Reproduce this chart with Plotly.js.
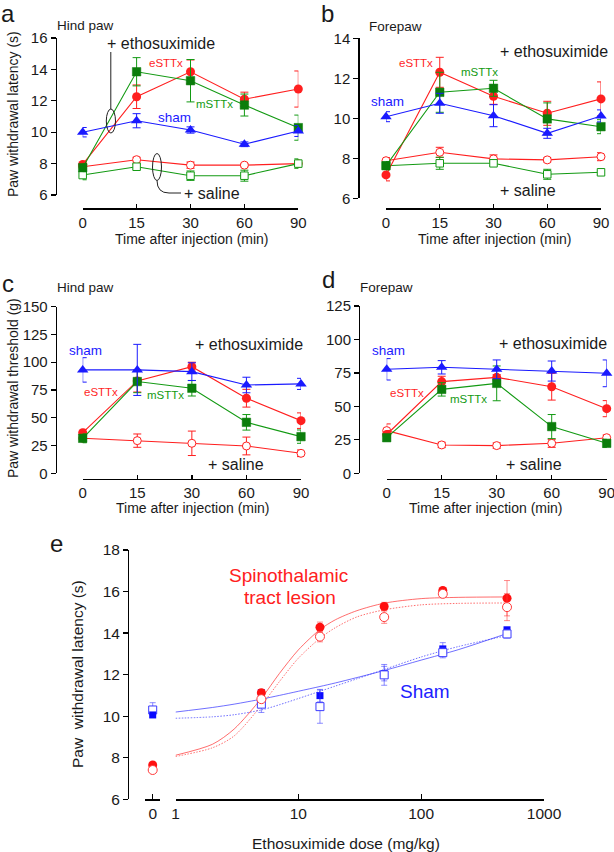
<!DOCTYPE html>
<html>
<head>
<meta charset="utf-8">
<script src="https://cdn.plot.ly/plotly-3.0.1.min.js"></script>
<style>
  html, body { margin: 0; padding: 0; background: #fff; }
  #chart { width: 614px; height: 852px; }
</style>
</head>
<body>
<div id="chart"></div>
<script>
// Time points (categories) shared by panels a-d
const timeLabels = ['0', '15', '30', '60', '90'];

// Panel a: hind paw withdrawal latency (s)
const aShamY = [10.0, 10.73, 10.14, 9.23, 10.08];
const aShamE = [0.3, 0.45, 0.2, 0.15, 0.35];
const aEsttxY = [7.95, 12.26, 13.85, 12.1, 12.75];
const aEsttxE = [0.2, 0.75, 0.75, 0.45, 1.15];
const aMsttxY = [7.74, 13.85, 13.28, 11.73, 10.29];
const aMsttxE = [0.25, 0.9, 1.35, 0.7, 0.8];
const aEsalY = [7.8, 8.25, 7.9, 7.9, 8.0];
const aEsalE = [0.15, 0.15, 0.2, 0.1, 0.15];
const aMsalY = [7.27, 7.8, 7.23, 7.23, 8.0];
const aMsalE = [0.3, 0.15, 0.3, 0.35, 0.3];

// Panel b: forepaw withdrawal latency (s)
const bShamY = [10.08, 10.75, 10.13, 9.25, 10.12];
const bShamE = [0.25, 0.5, 0.55, 0.25, 0.3];
const bEsttxY = [7.17, 12.3, 11.1, 10.25, 10.97];
const bEsttxE = [0.3, 0.75, 0.4, 0.6, 0.85];
const bMsttxY = [7.63, 11.3, 11.5, 9.97, 9.58];
const bMsttxE = [0.2, 1.0, 0.4, 0.8, 0.35];
const bEsalY = [7.88, 8.3, 7.97, 7.92, 8.08];
const bEsalE = [0.15, 0.25, 0.2, 0.1, 0.2];
const bMsalY = [7.63, 7.75, 7.75, 7.2, 7.3];
const bMsalE = [0.2, 0.3, 0.1, 0.25, 0.1];

// Panel c: hind paw withdrawal threshold (g)
const cShamY = [93.1, 93.1, 91.5, 79.5, 80.5];
const cShamE = [11, 23, 8, 7, 5];
const cEsttxY = [36.6, 83.2, 96, 67.6, 47.4];
const cEsttxE = [3, 10, 4, 8, 7];
const cMsttxY = [31.5, 82.6, 76.6, 45.9, 33];
const cMsttxE = [4, 10, 7, 7, 6];
const cEsalY = [31.5, 29.4, 27, 24.6, 18];
const cEsalE = [3, 6, 11, 8, 3];

// Panel d: forepaw withdrawal threshold (g)
const dShamY = [77.7, 79.2, 77.7, 76.4, 74.7];
const dShamE = [8, 5, 7, 7.5, 10];
const dEsttxY = [29, 68.5, 71.7, 64.7, 48.3];
const dEsttxE = [3, 4, 2, 10, 6];
const dMsttxY = [26.6, 62.7, 67.2, 34.9, 22.4];
const dMsttxE = [2, 5, 13, 9, 3];
const dEsalY = [31.9, 21.2, 20.7, 22.4, 26.6];
const dEsalE = [5, 2, 2, 3, 2];

// Panel e: dose response (mg/kg)
const doses = [5, 15, 50, 150, 500];
const zeroDose = [0];
const stlFilledY = [11.13, 14.28, 15.28, 16.05, 15.68];
const stlFilledE = [0.1, 0.25, 0.2, 0.1, 0.85];
const stlFilled0 = [7.65];
const stlOpenY = [10.82, 13.83, 14.77, 15.89, 15.25];
const stlOpenE = [0.1, 0.25, 0.3, 0.1, 0.65];
const stlOpen0 = [7.41];
const shamFilledY = [11.13, 10.99, 12.05, 13.24, 14.16];
const shamFilledE = [0.1, 0.3, 0.35, 0.3, 0.1];
const shamFilled0 = [10.06];
const shamOpenY = [10.58, 10.46, 11.99, 13.06, 13.96];
const shamOpenE = [0.4, 0.8, 0.5, 0.25, 0.2];
const shamOpen0 = [10.3];
const shamOpen0E = [0.35];

// Fitted curves
const curveDoses = [1, 2, 3, 5, 7, 10, 15, 20, 30, 50, 100, 200, 500];
const stlFitSolid = [8.12, 8.65, 9.38, 10.86, 12.05, 13.19, 14.17, 14.64, 15.08, 15.44, 15.66, 15.72, 15.74];
const stlFitDotted = [8.06, 8.48, 9.05, 10.52, 11.66, 12.79, 13.75, 14.26, 14.78, 15.12, 15.36, 15.43, 15.45];
const shamFitSolid = [10.2, 10.42, 10.58, 10.82, 11.0, 11.2, 11.43, 11.6, 11.86, 12.2, 12.7, 13.2, 13.98];
const shamFitDotted = [9.9, 9.97, 10.07, 10.3, 10.55, 10.85, 11.2, 11.45, 11.8, 12.25, 12.85, 13.35, 13.88];

// pixel -> paper helpers
const W = 614, H = 852;
const px = v => v / W;
const py = v => 1 - v / H;

const FONT = 'Liberation Sans, Arial, sans-serif';
const RED = '#ff1f1f', GREEN = '#139a13', DKGREEN = '#0b7d0b', BLUE = '#1a1aff';

function errs(arr, color) {
    return {type: 'data', array: arr, visible: true, color: color, thickness: 1, width: 4};
}

function series(xa, ya, y, e, kind) {
    let styles = {
        esttx: {line: RED, marker: {symbol: 'circle', size: 9, color: RED}},
        msttx: {line: GREEN, marker: {symbol: 'square', size: 8.5, color: DKGREEN, line: {color: DKGREEN, width: 0.5}}},
        sham: {line: BLUE, marker: {symbol: 'triangle-up', size: 10, color: BLUE}},
        esal: {line: RED, marker: {symbol: 'circle', size: 8, color: '#fff', line: {color: RED, width: 1}}},
        msal: {line: GREEN, marker: {symbol: 'square', size: 7.5, color: '#fff', line: {color: GREEN, width: 1}}}
    };
    let s = styles[kind];
    return {
        x: timeLabels, y: y, xaxis: xa, yaxis: ya,
        mode: 'lines+markers', cliponaxis: false,
        line: {color: s.line, width: 1.1},
        marker: s.marker,
        error_y: errs(e, s.line),
        hoverinfo: 'skip', showlegend: false
    };
}

let data = [
    // a
    series('x', 'y', aEsalY, aEsalE, 'esal'),
    series('x', 'y', aMsalY, aMsalE, 'msal'),
    series('x', 'y', aEsttxY, aEsttxE, 'esttx'),
    series('x', 'y', aMsttxY, aMsttxE, 'msttx'),
    series('x', 'y', aShamY, aShamE, 'sham'),
    // b
    series('x2', 'y2', bEsalY, bEsalE, 'esal'),
    series('x2', 'y2', bMsalY, bMsalE, 'msal'),
    series('x2', 'y2', bEsttxY, bEsttxE, 'esttx'),
    series('x2', 'y2', bMsttxY, bMsttxE, 'msttx'),
    series('x2', 'y2', bShamY, bShamE, 'sham'),
    // c
    series('x3', 'y3', cEsalY, cEsalE, 'esal'),
    series('x3', 'y3', cEsttxY, cEsttxE, 'esttx'),
    series('x3', 'y3', cMsttxY, cMsttxE, 'msttx'),
    series('x3', 'y3', cShamY, cShamE, 'sham'),
    // d
    series('x4', 'y4', dEsalY, dEsalE, 'esal'),
    series('x4', 'y4', dEsttxY, dEsttxE, 'esttx'),
    series('x4', 'y4', dMsttxY, dMsttxE, 'msttx'),
    series('x4', 'y4', dShamY, dShamE, 'sham')
];

// Panel e curves
function curve(y, color, dash) {
    return {
        x: curveDoses, y: y, xaxis: 'x5', yaxis: 'y5', mode: 'lines',
        line: {color: color, width: 1, shape: 'spline', smoothing: 0.8, dash: dash},
        hoverinfo: 'skip', showlegend: false
    };
}
const ERED = 'rgba(255,60,60,0.75)', EBLUE = 'rgba(50,50,255,0.7)';
data.push(curve(stlFitSolid, ERED, 'solid'));
data.push(curve(stlFitDotted, ERED, '1.5px,1.5px'));
data.push(curve(shamFitSolid, EBLUE, 'solid'));
data.push(curve(shamFitDotted, EBLUE, '1.5px,1.5px'));

// Panel e points
function pts(xa, x, y, e, marker, color) {
    return {
        x: x, y: y, xaxis: xa, yaxis: 'y5', mode: 'markers', cliponaxis: false,
        marker: marker,
        error_y: {type: 'data', array: e, visible: true, color: color, thickness: 0.8, width: 3},
        hoverinfo: 'skip', showlegend: false
    };
}
const redDot = {symbol: 'circle', size: 9, color: '#ff1010'};
const redRing = {symbol: 'circle', size: 9, color: '#fff', line: {color: '#ff3a3a', width: 1}};
const blueSq = {symbol: 'square', size: 7, color: '#0a0aff'};
const blueBox = {symbol: 'square', size: 8, color: '#fff', line: {color: '#3a3aff', width: 1}};
data.push(pts('x5', doses, shamFilledY, shamFilledE, blueSq, EBLUE));
data.push(pts('x5', doses, shamOpenY, shamOpenE, blueBox, EBLUE));
data.push(pts('x5', doses, stlFilledY, stlFilledE, redDot, ERED));
data.push(pts('x5', doses, stlOpenY, stlOpenE, redRing, ERED));
data.push(pts('x6', zeroDose, shamOpen0, shamOpen0E, blueBox, EBLUE));
data.push(pts('x6', zeroDose, shamFilled0, [0], blueSq, EBLUE));
data.push(pts('x6', zeroDose, stlFilled0, [0], redDot, ERED));
data.push(pts('x6', zeroDose, stlOpen0, [0], redRing, ERED));

// Axes
function axis(extra) {
    return Object.assign({
        showline: true, linecolor: '#000', linewidth: 1.3,
        ticks: 'outside', ticklen: 5, tickwidth: 1.3, tickcolor: '#000',
        showgrid: false, zeroline: false, fixedrange: true,
        tickfont: {family: FONT, size: 15, color: '#1a1a1a'},
        anchor: 'free'
    }, extra);
}
function timeAxis(x0, x1, yPos) {
    return axis({type: 'category', range: [0, 4], domain: [px(x0), px(x1)],
        position: py(yPos), ticks: 'inside', ticklen: 4});
}

let layout = {
    width: W, height: H,
    margin: {l: 0, r: 0, t: 0, b: 0},
    paper_bgcolor: '#fff', plot_bgcolor: 'rgba(0,0,0,0)',
    font: {family: FONT, color: '#1a1a1a'},
    showlegend: false,
    xaxis: timeAxis(82.7, 298.3, 208.3),
    yaxis: axis({range: [6, 16], dtick: 2, domain: [py(195), py(38)], position: px(55.5)}),
    xaxis2: timeAxis(386, 601, 208.3),
    yaxis2: axis({range: [6, 14], dtick: 2, domain: [py(198.3), py(38.3)], position: px(358.3)}),
    xaxis3: timeAxis(82.7, 301, 478.5),
    yaxis3: axis({range: [0, 150], dtick: 25, domain: [py(473.3), py(306.7)], position: px(55.7)}),
    xaxis4: timeAxis(386.7, 606.7, 479),
    yaxis4: axis({range: [0, 125], dtick: 25, domain: [py(473.3), py(306)], position: px(359)}),
    xaxis5: axis({type: 'log', range: [0, 3], domain: [px(175.5), px(544)], position: py(799.3),
        tickvals: [1, 10, 100, 1000], ticktext: ['1', '10', '100', '1000'], ticks: 'inside', ticklen: 5,
        tickfont: {family: FONT, size: 15.5, color: '#1a1a1a'}}),
    xaxis6: axis({range: [-1, 1], domain: [px(145.2), px(160.2)], position: py(799.3),
        tickvals: [0], ticktext: ['0'], ticks: 'inside', ticklen: 5,
        tickfont: {family: FONT, size: 15.5, color: '#1a1a1a'}}),
    yaxis5: axis({range: [6, 18], dtick: 2, domain: [py(799.3), py(550)], position: px(128),
        tickfont: {family: FONT, size: 15.5, color: '#1a1a1a'}})
};

// Text labels
function label(text, x, y, size, color, anchor, angle) {
    return {
        text: text, x: px(x), y: py(y), xref: 'paper', yref: 'paper',
        xanchor: anchor || 'center', yanchor: 'middle', showarrow: false,
        textangle: angle || 0,
        font: {family: FONT, size: size, color: color || '#1a1a1a'}
    };
}
layout.annotations = [
    // a
    label('a', 8, 13, 24), label('Hind paw', 55, 25, 13.5, null, 'left'),
    label('+ ethosuximide', 161, 43, 16), label('eSTTx', 166, 63, 11.5, RED),
    label('mSTTx', 214.5, 104, 11.5, GREEN), label('sham', 156, 117, 13.5, BLUE, 'left'),
    label('+ saline', 212, 193, 16),
    label('Paw withdrawal latency (s)', 13, 114, 14, null, 'center', -90),
    label('Time after injection (min)', 192, 239, 14),
    // b
    label('b', 327, 13, 24), label('Forepaw', 367, 27, 13.5, null, 'left'),
    label('+ ethosuximide', 553.5, 52, 16), label('eSTTx', 415.5, 63, 11.5, RED),
    label('mSTTx', 479.5, 72, 11.5, GREEN), label('sham', 369, 102, 13.5, BLUE, 'left'),
    label('+ saline', 527.5, 191, 16),
    label('Time after injection (min)', 495, 239, 14),
    // c
    label('c', 8, 284, 24), label('Hind paw', 55, 287, 13.5, null, 'left'),
    label('sham', 67, 350, 13.5, BLUE, 'left'), label('+ ethosuximide', 249, 344, 16),
    label('eSTTx', 101, 392, 11.5, RED), label('mSTTx', 165, 395, 11.5, GREEN),
    label('+ saline', 235.5, 464, 16),
    label('Paw withdrawal threshold (g)', 13, 388, 14, null, 'center', -90),
    label('Time after injection (min)', 193, 508, 14),
    // d
    label('d', 328, 279, 24), label('Forepaw', 358, 287, 13.5, null, 'left'),
    label('sham', 370, 350, 13.5, BLUE, 'left'), label('+ ethosuximide', 553, 343, 16),
    label('eSTTx', 406.5, 393, 11.5, RED), label('mSTTx', 468.5, 399, 11.5, GREEN),
    label('+ saline', 534, 464, 16),
    label('Time after injection (min)', 486, 508, 14),
    // e
    label('e', 56, 543, 24),
    label('Spinothalamic', 288, 575, 19, '#ff2020'), label('tract lesion', 290, 597, 19, '#ff2020'),
    label('Sham', 424.5, 691, 19, '#2020ff'),
    label('Paw&nbsp; withdrawal latency (s)', 77, 674, 15.5, null, 'center', -90),
    label('Ethosuximide dose (mg/kg)', 346, 843, 15.5)
];

// Brackets marking the groups in panel a
const pathSaline = 'M ' + px(157) + ',' + py(180.5) + ' Q ' + px(157) + ',' + py(193) + ' ' +
    px(169) + ',' + py(193) + ' L ' + px(181) + ',' + py(193);
layout.shapes = [
    {type: 'line', xref: 'paper', yref: 'paper', x0: px(110.8), x1: px(110.8), y0: py(52), y1: py(109),
        line: {color: '#222', width: 1}},
    {type: 'circle', xref: 'paper', yref: 'paper', x0: px(106.3), x1: px(115.5), y0: py(133), y1: py(109),
        line: {color: '#222', width: 1}},
    {type: 'circle', xref: 'paper', yref: 'paper', x0: px(152.5), x1: px(161.5), y0: py(180.5), y1: py(153.5),
        line: {color: '#222', width: 1}},
    {type: 'path', xref: 'paper', yref: 'paper', path: pathSaline, line: {color: '#222', width: 1}}
];

Plotly.newPlot('chart', data, layout, {staticPlot: true});
</script>
</body>
</html>
